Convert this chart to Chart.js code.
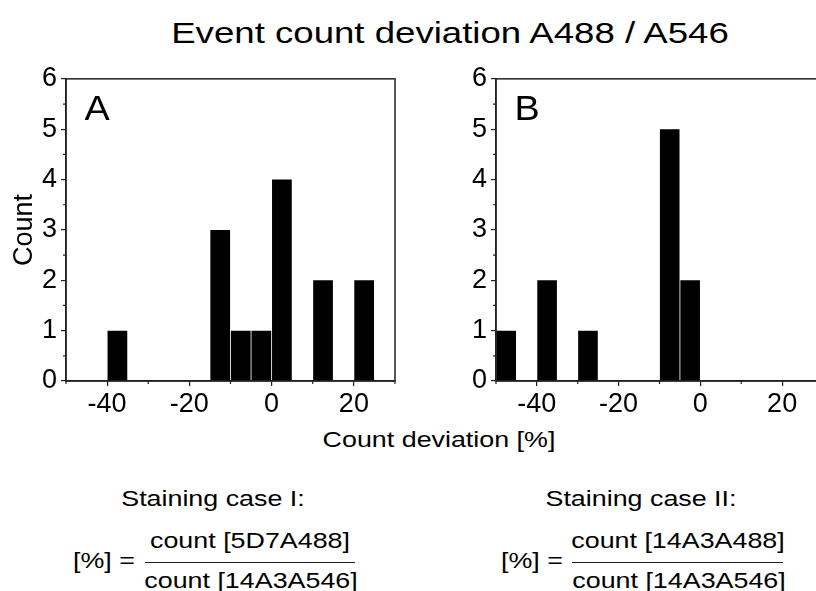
<!DOCTYPE html>
<html>
<head>
<meta charset="utf-8">
<script src="https://cdn.jsdelivr.net/npm/chart.js@4"></script>
<style>
  html, body { margin: 0; padding: 0; background: #fff; overflow: hidden; }
  #page { position: relative; width: 816px; height: 591px; overflow: hidden; }
  .txt {
    position: absolute;
    font-family: "Liberation Sans", Arial, sans-serif;
    color: #000;
    line-height: 1;
    white-space: nowrap;
    transform: translate(-50%, -50%) scaleX(1.22);
  }
  .rule { position: absolute; height: 0; border-top: 1.5px solid #222; }
  canvas { position: absolute; }
</style>
</head>
<body>
<div id="page">
  <div class="txt" style="left:450px; top:33px; font-size:30px;">Event count deviation A488 / A546</div>
  <div class="txt" style="left:439px; top:440px; font-size:22px;">Count deviation [%]</div>

  <div class="txt" style="left:213px; top:499px; font-size:22px;">Staining case I:</div>
  <div class="txt" style="left:104px; top:561px; font-size:22px;">[%] =</div>
  <div class="txt" style="left:250px; top:541px; font-size:22px;">count [5D7A488]</div>
  <div class="rule" style="left:145px; top:562px; width:210px;"></div>
  <div class="txt" style="left:251px; top:581px; font-size:22px;">count [14A3A546]</div>

  <div class="txt" style="left:641px; top:499px; font-size:22px;">Staining case II:</div>
  <div class="txt" style="left:532px; top:561px; font-size:22px;">[%] =</div>
  <div class="txt" style="left:678px; top:541px; font-size:22px;">count [14A3A488]</div>
  <div class="rule" style="left:572px; top:562px; width:211px;"></div>
  <div class="txt" style="left:679px; top:581px; font-size:22px;">count [14A3A546]</div>

  <canvas id="chartA" width="400" height="360" style="left:0px; top:60px;"></canvas>
  <canvas id="chartB" width="400" height="360" style="left:430px; top:60px;"></canvas>

  <div class="txt" style="left:97px; top:107px; font-size:35px; transform: translate(-50%, -50%) scaleX(1.08);">A</div>
  <div class="txt" style="left:527px; top:107px; font-size:35px; transform: translate(-50%, -50%) scaleX(1.08);">B</div>
</div>

<script>
// histogram bins (centre of each 5 % wide bin)
const binCenters = [-47.5, -42.5, -37.5, -32.5, -27.5, -22.5, -17.5, -12.5, -7.5, -2.5, 2.5, 7.5, 12.5, 17.5, 22.5, 27.5];
const countsA    = [0, 0, 1, 0, 0, 0, 0, 3, 1, 1, 4, 0, 2, 0, 2, 0];
const countsB    = [1, 0, 2, 0, 1, 0, 0, 0, 5, 2, 0, 0, 0, 0, 0, 0];

const xMin = -50, xMax = 30, xStep = 10, xLabelEvery = 20;
const yMin = 0, yMax = 6, yStep = 0.5;

const tickFont = { family: 'Liberation Sans, Arial, sans-serif', size: 27, lineHeight: 1.1 };
const axisColor = '#222';

const isMajorX = v => v % xLabelEvery === 0;
const isMajorY = v => Number.isInteger(v);

// closed box round the plot area, plus the short minor ticks
const framePlugin = {
    id: 'frame',
    afterDraw(chart) {
        const a = chart.chartArea;
        const ctx = chart.ctx;
        ctx.save();
        ctx.strokeStyle = axisColor;
        ctx.lineWidth = 1.5;
        ctx.strokeRect(a.left, a.top, a.right - a.left, a.bottom - a.top);

        ctx.lineWidth = 1.2;
        ctx.beginPath();
        chart.scales.x.ticks.forEach(t => {
            if (isMajorX(t.value)) return;
            const px = chart.scales.x.getPixelForValue(t.value);
            ctx.moveTo(px, a.bottom);
            ctx.lineTo(px, a.bottom + 3);
        });
        chart.scales.y.ticks.forEach(t => {
            if (isMajorY(t.value)) return;
            const py = chart.scales.y.getPixelForValue(t.value);
            ctx.moveTo(a.left, py);
            ctx.lineTo(a.left - 3, py);
        });
        ctx.stroke();
        ctx.restore();
    }
};

function makeHist(canvasId, counts, showYTitle, padRight) {
    const ctx = document.getElementById(canvasId).getContext('2d');
    const points = binCenters.map((x, i) => ({ x: x, y: counts[i] }));

    return new Chart(ctx, {
        type: 'bar',
        data: {
            datasets: [{
                data: points,
                backgroundColor: '#000',
                borderWidth: 0,
                barPercentage: 0.96,
                categoryPercentage: 1
            }]
        },
        plugins: [framePlugin],
        options: {
            responsive: false,
            animation: false,
            layout: { padding: { top: 18, right: padRight, left: 0, bottom: 0 } },
            plugins: {
                legend: { display: false },
                tooltip: { enabled: false }
            },
            scales: {
                x: {
                    type: 'linear',
                    min: xMin,
                    max: xMax,
                    offset: false,
                    afterFit: scale => { scale.height = 39; },
                    grid: {
                        offset: false,
                        drawOnChartArea: false,
                        drawTicks: true,
                        tickLength: 5,
                        tickColor: c => (isMajorX(c.tick.value) ? axisColor : 'rgba(0,0,0,0)'),
                        lineWidth: 1.2
                    },
                    border: { display: true, color: axisColor, width: 1.5 },
                    ticks: {
                        stepSize: xStep,
                        autoSkip: false,
                        maxRotation: 0,
                        padding: 4,
                        color: '#000',
                        font: tickFont,
                        callback: v => (isMajorX(v) ? String(v) : '')
                    }
                },
                y: {
                    min: yMin,
                    max: yMax,
                    afterFit: scale => { scale.width = 66; },
                    grid: {
                        drawOnChartArea: false,
                        drawTicks: true,
                        tickLength: 5,
                        tickColor: c => (isMajorY(c.tick.value) ? axisColor : 'rgba(0,0,0,0)'),
                        lineWidth: 1.2
                    },
                    border: { display: true, color: axisColor, width: 1.5 },
                    title: {
                        display: showYTitle,
                        text: 'Count',
                        color: '#000',
                        font: { family: 'Liberation Sans, Arial, sans-serif', size: 27 },
                        padding: { top: 8, bottom: 0 }
                    },
                    ticks: {
                        stepSize: yStep,
                        autoSkip: false,
                        padding: 4,
                        color: '#000',
                        font: tickFont,
                        callback: v => (isMajorY(v) ? String(v) : '')
                    }
                }
            }
        }
    });
}

makeHist('chartA', countsA, true, 5);
makeHist('chartB', countsB, false, 7);
</script>
</body>
</html>
